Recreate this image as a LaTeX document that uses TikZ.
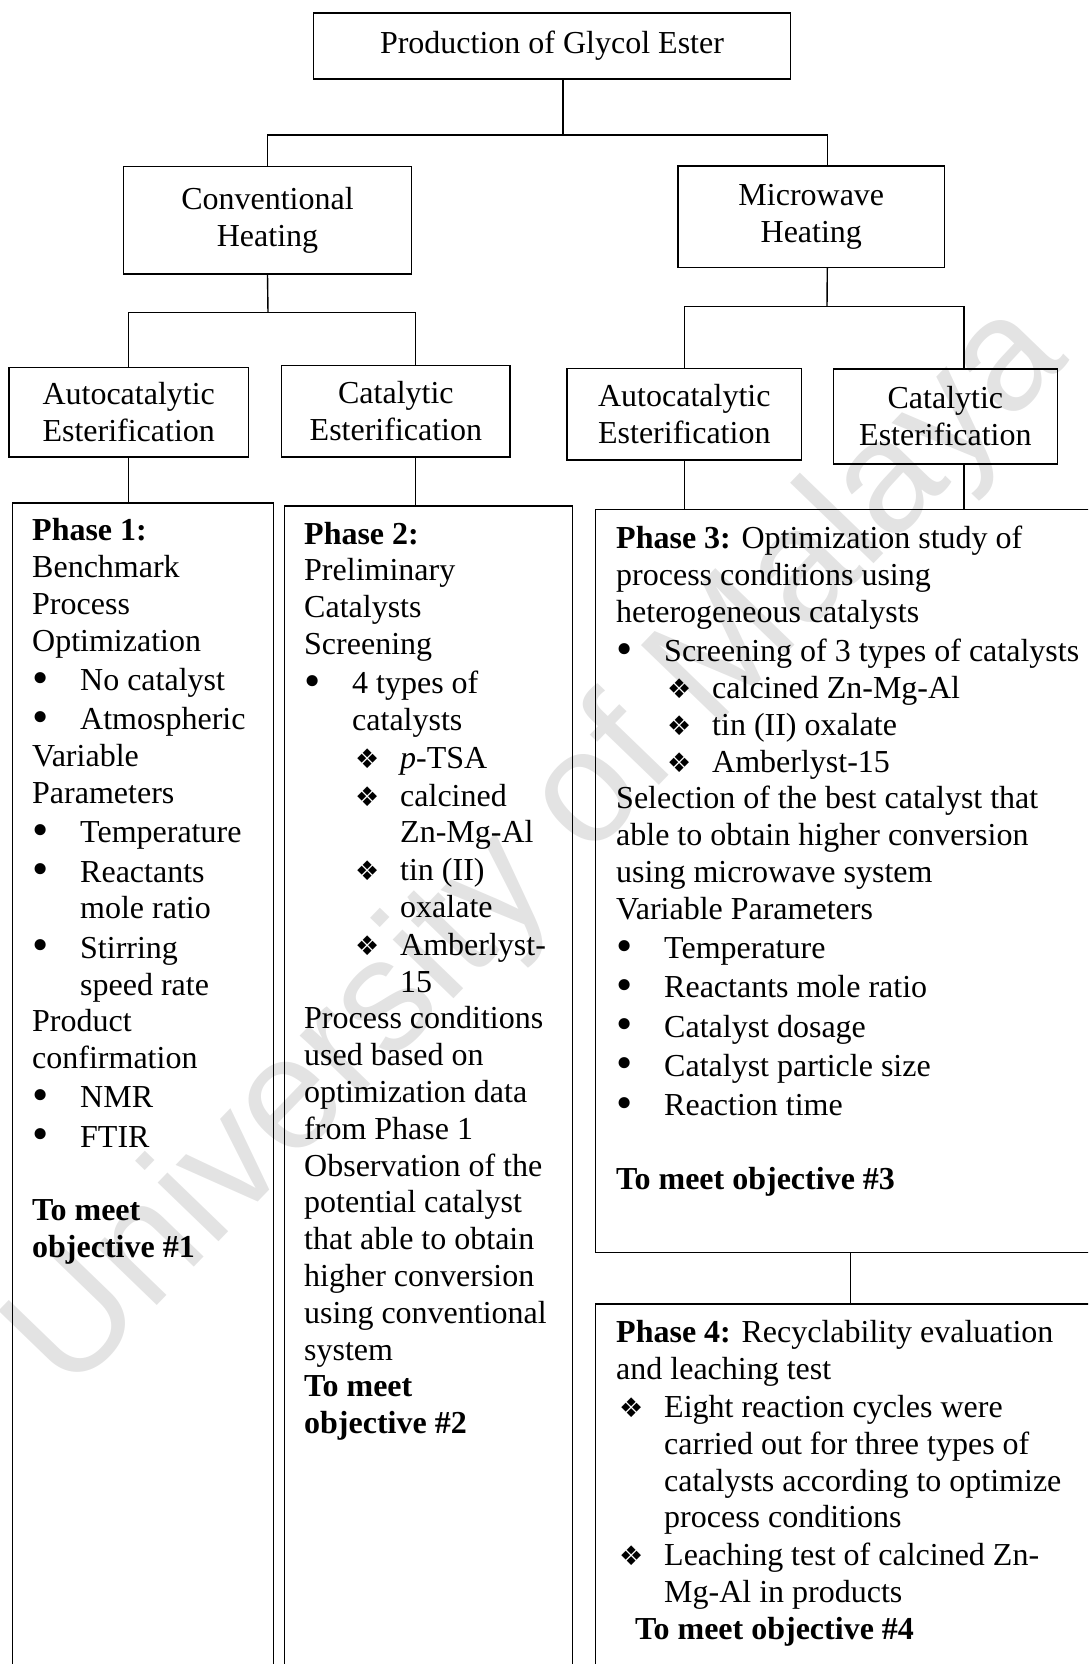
\documentclass[tikz,border=0pt]{standalone}
\usepackage{fontspec}
\setmainfont{Liberation Serif}
\newfontfamily\symfont{DejaVu Sans}
\newfontfamily\markfont{Liberation Sans}

\newcommand{\bul}{\makebox[48pt][l]{\raisebox{-2.5pt}{\scalebox{1.45}{\textbullet}}}}
\newcommand{\ind}{\hspace*{48pt}}
\newcommand{\dia}{\makebox[48pt][l]{\hspace*{3pt}{\symfont\fontsize{27}{27}\selectfont ❖}}}

\tikzset{box/.style={draw, line width=1.4pt, inner sep=0pt, align=center},
         frame/.style={draw, line width=1.4pt, inner sep=0pt, anchor=north west},
         body/.style={inner sep=0pt, anchor=north west, align=left},
         link/.style={line width=1.4pt}}

\begin{document}
\begin{tikzpicture}[x=1pt, y=-1pt, font=\fontsize{32}{36.8}\selectfont]
            \useasboundingbox (0,0) rectangle (1088,1664);
            \clip (0,0) rectangle (1088,1664);

            % watermark
            \node[text=black!11, rotate=46, font=\markfont\fontsize{160}{160}\selectfont] (wm) at (540,850) {University of Malaya};

            % upper boxes
            \node[box, minimum width=477pt, minimum height=66pt] (prod) at (552,46) {Production of Glycol Ester};
            \node[box, minimum width=288pt, minimum height=107pt] (conv) at (267.5,220.3) {Conventional\\Heating};
            \node[box, minimum width=266.5pt, minimum height=101pt] (micro) at (811.3,216.7) {Microwave\\Heating};
            \node[box, minimum width=239.4pt, minimum height=89.3pt] (autoL) at (128.7,412.3) {Autocatalytic\\Esterification};
            \node[box, minimum width=228.3pt, minimum height=91.7pt] (catL) at (395.9,411.2) {Catalytic\\Esterification};
            \node[box, minimum width=234.5pt, minimum height=91.7pt] (autoR) at (684.3,414.2) {Autocatalytic\\Esterification};
            \node[box, minimum width=224.2pt, minimum height=95pt] (catR) at (945.4,416.4) {Catalytic\\Esterification};

            % phase frames
            \node[frame, minimum width=261.4pt, minimum height=1200pt] (ph1) at (11.5,502.2) {};
            \node[frame, minimum width=287.8pt, minimum height=1200pt] (ph2) at (284,505.3) {};
            \node[frame, minimum width=510pt, minimum height=743.2pt] (ph3) at (595,508.5) {};
            \node[frame, minimum width=510pt, minimum height=420pt] (ph4) at (595,1303.3) {};

            % the tree lines
            \coordinate (j0) at (563,135);
            \coordinate (j1) at (268,312.7);
            \coordinate (j2) at (827,306.7);
            \coordinate (mt) at ([xshift=16pt]micro.north);
            \coordinate (mb) at ([xshift=16pt]micro.south);
            \coordinate (cl) at ([xshift=19.5pt]catL.north);
            \coordinate (cl2) at ([xshift=19.5pt]catL.south);
            \coordinate (cr) at ([xshift=18.6pt]catR.north);
            \coordinate (cr2) at ([xshift=18.6pt]catR.south);

            \draw[link] (prod.south -| j0) -- (j0) -| (conv.north);
            \draw[link] (j0) -| (mt);
            \draw[link] (conv.south) -- (j1);
            \draw[link] (autoL.north) |- (j1) -| (cl);
            \draw[link] (mb) -- (j2);
            \draw[link] (autoR.north) |- (j2) -| (cr);
            \draw[link] (autoL.south) -- (autoL.south |- ph1.north);
            \draw[link] (cl2) -- (cl2 |- ph2.north);
            \draw[link] (autoR.south) -- (autoR.south |- ph3.north);
            \draw[link] (cr2) -- (cr2 |- ph3.north);
            \draw[link] (ph3.south) -- (ph4.north);

            % texts of the phases
            \node[body] (t1) at (32,515) {\strut\textbf{Phase 1:}\\
                Benchmark\\
                Process\\
                Optimization\\[2.5pt]
                \bul No catalyst\\[2.5pt]
                \bul Atmospheric\\
                Variable\\
                Parameters\\[2.5pt]
                \bul Temperature\\[2.5pt]
                \bul Reactants\\
                \ind mole ratio\\[2.5pt]
                \bul Stirring\\
                \ind speed rate\\
                Product\\
                confirmation\\[2.5pt]
                \bul NMR\\[2.5pt]
                \bul FTIR\\[36.8pt]
                \textbf{To meet}\\
                \textbf{objective \#1}};

            \node[body] (t2) at (304,518.1) {\strut\textbf{Phase 2:}\\
                Preliminary\\
                Catalysts\\
                Screening\\[2.5pt]
                \bul 4 types of\\
                \ind catalysts\\[1pt]
                \ind\dia\textit{p}-TSA\\[1pt]
                \ind\dia calcined\\
                \ind\ind Zn-Mg-Al\\[1pt]
                \ind\dia tin (II)\\
                \ind\ind oxalate\\[1pt]
                \ind\dia Amberlyst-\\
                \ind\ind 15\\
                Process conditions\\
                used based on\\
                optimization data\\
                from Phase 1\\
                Observation of the\\
                potential catalyst\\
                that able to obtain\\
                higher conversion\\
                using conventional\\
                system\\
                \textbf{To meet}\\
                \textbf{objective \#2}};

            \node[body] (t3) at (616,522.8) {\strut\textbf{Phase 3:} Optimization study of\\
                process conditions using\\
                heterogeneous catalysts\\[2.5pt]
                \bul Screening of 3 types of catalysts\\
                \ind\dia calcined Zn-Mg-Al\\
                \ind\dia tin (II) oxalate\\
                \ind\dia Amberlyst-15\\
                Selection of the best catalyst that\\
                able to obtain higher conversion\\
                using microwave system\\
                Variable Parameters\\[2.5pt]
                \bul Temperature\\[2.5pt]
                \bul Reactants mole ratio\\[2.5pt]
                \bul Catalyst dosage\\[2.5pt]
                \bul Catalyst particle size\\[2.5pt]
                \bul Reaction time\\[36.8pt]
                \textbf{To meet objective \#3}};

            \node[body] (t4) at (616,1316.9) {\strut\textbf{Phase 4:} Recyclability evaluation\\
                and leaching test\\[1pt]
                \dia Eight reaction cycles were\\
                \ind carried out for three types of\\
                \ind catalysts according to optimize\\
                \ind process conditions\\[1pt]
                \dia Leaching test of calcined Zn-\\
                \ind Mg-Al in products\\
                \hspace*{19pt}\textbf{To meet objective \#4}};
        \end{tikzpicture}
\end{document}
